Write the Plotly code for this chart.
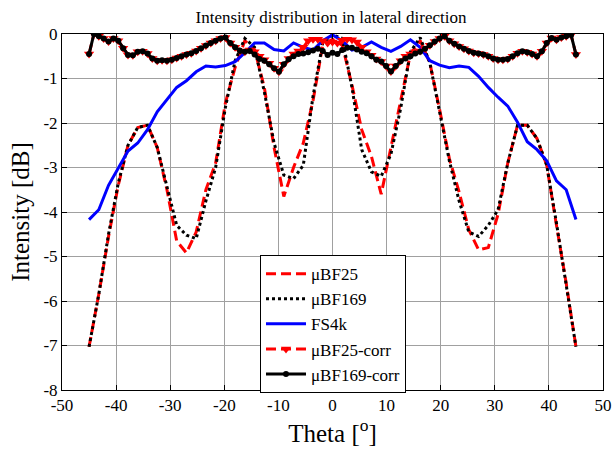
import plotly.graph_objects as go

# --- data ---
theta_coarse = [-45, -43.2, -41.4, -39.6, -37.8, -36, -34.2, -32.4, -30.6, -28.8, -27, -25.2,
                -23.4, -21.6, -19.8, -18, -16.2, -14.4, -12.6, -10.8, -9, -7.2, -5.4, -3.6, -1.8,
                0, 1.8, 3.6, 5.4, 7.2, 9, 10.8, 12.6, 14.4, 16.2, 18, 19.8, 21.6, 23.4, 25.2,
                27, 28.8, 30.6, 32.4, 34.2, 36, 37.8, 39.6, 41.4, 43.2, 45]

ubf25 = [-7.03, -5.85, -4.55, -3.4, -2.5, -2.1, -2.05, -2.55, -3.5, -4.65, -4.92, -4.45,
         -3.5, -2.9, -1.55, -0.75, -0.15, -0.35, -1.2, -2.55, -3.65, -3.0, -2.45, -1.5, -0.25,
         -0.12, -0.25, -1.15, -2.15, -2.75, -3.6, -2.55, -1.5, -0.45, -0.15, -0.65, -1.7,
         -2.8, -3.55, -4.4, -4.85, -4.8, -4.05, -2.9, -2.05, -2.05, -2.35, -2.95, -4.3, -5.6, -7.03]

ubf169 = [-7.03, -5.85, -4.5, -3.35, -2.5, -2.1, -2.05, -2.55, -3.43, -4.3, -4.52, -4.6,
          -3.75, -3.0, -1.65, -0.6, -0.1, -0.3, -1.3, -2.45, -3.17, -3.25, -2.95, -1.4, -0.2,
          -0.02, -0.1, -1.2, -2.6, -3.1, -3.2, -2.7, -1.67, -0.4, -0.08, -0.65, -1.75,
          -2.85, -3.75, -4.45, -4.55, -4.3, -3.95, -2.9, -2.05, -2.05, -2.35, -2.95, -4.25, -5.6, -7.03]

fs4k = [-4.17, -3.95, -3.4, -3.0, -2.63, -2.45, -2.15, -1.75, -1.48, -1.2, -1.05, -0.85,
        -0.72, -0.74, -0.71, -0.62, -0.42, -0.2, -0.2, -0.35, -0.38, -0.2, -0.3, -0.36, -0.15,
        -0.02, -0.15, -0.36, -0.3, -0.18, -0.3, -0.39, -0.28, -0.13, -0.3, -0.6, -0.7,
        -0.76, -0.72, -0.75, -0.95, -1.2, -1.42, -1.62, -1.98, -2.42, -2.6, -2.85, -3.3, -3.5, -4.17]

theta_fine = [-45, -44.1, -43.2, -42.3, -41.4, -40.5, -39.6, -38.7, -37.8, -36.9, -36, -35.1,
              -34.2, -33.3, -32.4, -31.5, -30.6, -29.7, -28.8, -27.9, -27, -26.1, -25.2, -24.3,
              -23.4, -22.5, -21.6, -20.7, -19.8, -18.9, -18, -17.1, -16.2, -15.3, -14.4, -13.5,
              -12.6, -11.7, -10.8, -9.9, -9, -8.1, -7.2, -6.3, -5.4, -4.5, -3.6, -2.7, -1.8, -0.9,
              0, 0.9, 1.8, 2.7, 3.6, 4.5, 5.4, 6.3, 7.2, 8.1, 9, 9.9, 10.8, 11.7, 12.6, 13.5,
              14.4, 15.3, 16.2, 17.1, 18, 18.9, 19.8, 20.7, 21.6, 22.5, 23.4, 24.3, 25.2, 26.1,
              27, 27.9, 28.8, 29.7, 30.6, 31.5, 32.4, 33.3, 34.2, 35.1, 36, 36.9, 37.8, 38.7,
              39.6, 40.5, 41.4, 42.3, 43.2, 44.1, 45]

ubf169_corr = [-0.45, 0.0, -0.05, -0.1, -0.17, -0.1, -0.15, -0.32, -0.47, -0.48, -0.4, -0.39,
               -0.44, -0.55, -0.6, -0.59, -0.6, -0.58, -0.54, -0.5, -0.46, -0.43, -0.38, -0.32,
               -0.26, -0.2, -0.15, -0.1, -0.08, -0.2, -0.3, -0.38, -0.4, -0.38, -0.46, -0.56,
               -0.6, -0.68, -0.77, -0.85, -0.68, -0.57, -0.5, -0.45, -0.44, -0.41, -0.37, -0.33,
               -0.38, -0.47, -0.42, -0.45, -0.36, -0.31, -0.31, -0.35, -0.4, -0.43, -0.5, -0.58,
               -0.62, -0.72, -0.84, -0.72, -0.61, -0.55, -0.5, -0.44, -0.4, -0.33, -0.25, -0.17,
               -0.1, -0.05, -0.15, -0.22, -0.28, -0.33, -0.38, -0.42, -0.44, -0.46, -0.5, -0.55,
               -0.58, -0.58, -0.56, -0.5, -0.43, -0.39, -0.41, -0.45, -0.5, -0.39, -0.2, -0.09,
               -0.13, -0.08, -0.05, -0.02, -0.46]

ubf25_corr = [-0.45, 0.0, -0.05, -0.1, -0.17, -0.1, -0.15, -0.32, -0.47, -0.48, -0.4, -0.39,
              -0.44, -0.55, -0.6, -0.59, -0.6, -0.58, -0.54, -0.5, -0.46, -0.43, -0.38, -0.32,
              -0.26, -0.2, -0.15, -0.1, -0.08, -0.2, -0.3, -0.38, -0.4, -0.36, -0.4, -0.5,
              -0.58, -0.66, -0.77, -0.85, -0.68, -0.55, -0.45, -0.38, -0.3, -0.15, -0.12, -0.12,
              -0.15, -0.2, -0.18, -0.2, -0.14, -0.12, -0.13, -0.18, -0.3, -0.4, -0.48, -0.56,
              -0.62, -0.72, -0.84, -0.72, -0.6, -0.5, -0.45, -0.4, -0.38, -0.33, -0.25, -0.17,
              -0.1, -0.05, -0.15, -0.22, -0.28, -0.33, -0.38, -0.42, -0.44, -0.46, -0.5, -0.55,
              -0.58, -0.58, -0.56, -0.5, -0.43, -0.39, -0.41, -0.45, -0.5, -0.39, -0.2, -0.09,
              -0.13, -0.08, -0.05, -0.02, -0.46]

x_ticks = [-50, -40, -30, -20, -10, 0, 10, 20, 30, 40, 50]
y_ticks = [0, -1, -2, -3, -4, -5, -6, -7, -8]

FONT = "Liberation Serif, Times New Roman, serif"

fig = go.Figure()
fig.add_trace(go.Scatter(x=theta_coarse, y=ubf25, mode="lines", name="\u03bcBF25",
                         line=dict(color="rgb(255,0,0)", width=3, dash="10px,5px")))
fig.add_trace(go.Scatter(x=theta_coarse, y=ubf169, mode="lines", name="\u03bcBF169",
                         line=dict(color="black", width=3, dash="3px,3px")))
fig.add_trace(go.Scatter(x=theta_coarse, y=fs4k, mode="lines", name="FS4k",
                         line=dict(color="rgb(0,0,255)", width=3)))
fig.add_trace(go.Scatter(x=theta_fine, y=ubf25_corr, mode="lines+markers", name="\u03bcBF25-corr",
                         line=dict(color="rgb(255,0,0)", width=3, dash="10px,5px"),
                         marker=dict(symbol="triangle-down", size=9, color="rgb(255,0,0)")))
fig.add_trace(go.Scatter(x=theta_fine, y=ubf169_corr, mode="lines+markers", name="\u03bcBF169-corr",
                         line=dict(color="black", width=3),
                         marker=dict(symbol="circle", size=6, color="black")))

axis_common = dict(showline=True, linecolor="black", linewidth=1, mirror="allticks",
                   ticks="inside", ticklen=5, tickcolor="black", automargin=False,
                   showgrid=True, gridcolor="rgb(160,160,160)", gridwidth=1,
                   zeroline=False, tickfont=dict(family=FONT, size=17, color="black"))

fig.update_xaxes(range=[-50, 50], tickvals=x_ticks, ticktext=[str(v) for v in x_ticks],
                 title=dict(text="Theta [<sup>o</sup>]", font=dict(family=FONT, size=25, color="black"),
                            standoff=6),
                 **axis_common)
fig.update_yaxes(range=[-8, 0], tickvals=y_ticks, ticktext=[str(v) for v in y_ticks],
                 title=dict(text="Intensity [dB]", font=dict(family=FONT, size=25, color="black"),
                            standoff=6),
                 **axis_common)

fig.update_layout(
    width=613, height=451,
    margin=dict(l=62, r=10, t=34, b=61),
    paper_bgcolor="white", plot_bgcolor="white",
    title=dict(text="Intensity distribution in lateral direction", x=0.54, xanchor="center",
               y=0.962, yanchor="middle", yref="container",
               font=dict(family=FONT, size=17, color="black")),
    legend=dict(x=0.366, y=0.379, xanchor="left", yanchor="top",
                bgcolor="white", bordercolor="black", borderwidth=1,
                font=dict(family=FONT, size=17, color="black"),
                tracegroupgap=0, itemwidth=40),
    showlegend=True,
)

fig.write_html("out.html")
